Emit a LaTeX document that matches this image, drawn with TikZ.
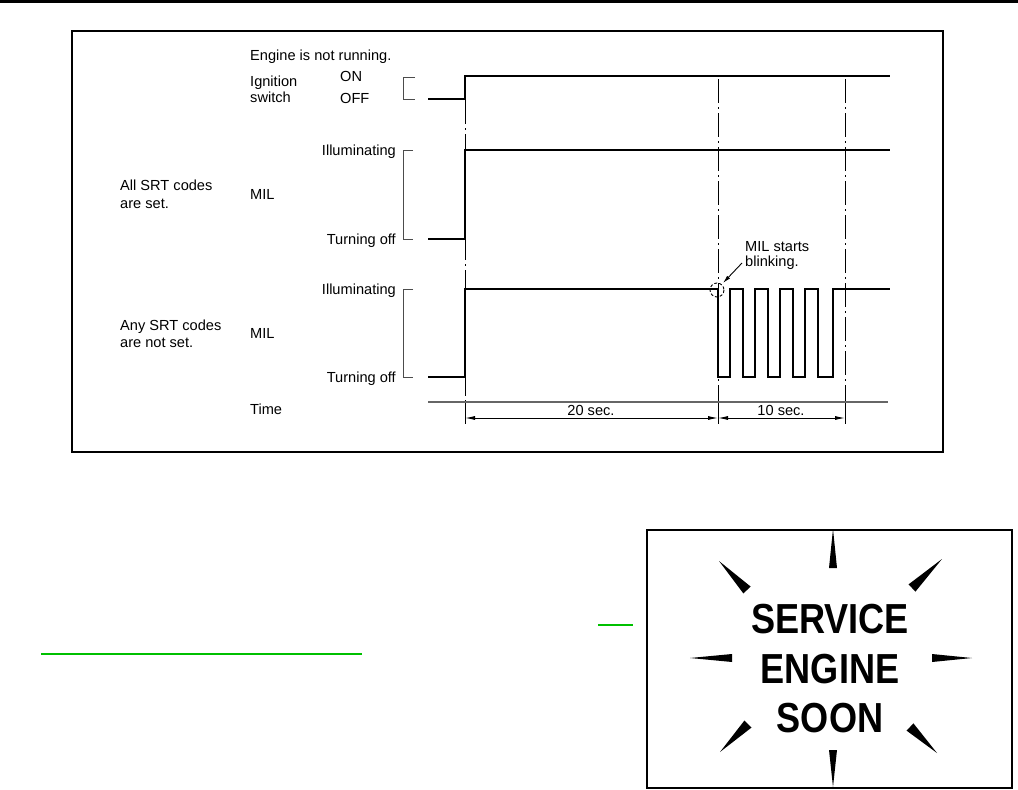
\documentclass[tikz,border=0pt]{standalone}
\usepackage{fontspec}
\setmainfont{Liberation Sans}
\usetikzlibrary{arrows.meta,calc}
\definecolor{sgreen}{RGB}{0,192,0}
\newcommand\spikeshape[3]{\fill ($(#1)!#3!90:(#2)$) -- (#2) -- ($(#1)!#3!-90:(#2)$) -- cycle;}
\begin{document}
\begin{tikzpicture}[x=1pt,y=-1pt,
  lbl/.style={font=\fontsize{14.6}{16}\selectfont, inner sep=0pt},
  sig/.style={line width=2.8pt, line join=miter},
  brk/.style={line width=0.9pt, black!70},
  dd/.style={line width=0.9pt, dash pattern=on 24pt off 4pt on 2pt off 4pt},
  dimline/.style={line width=0.9pt, {Latex[length=10pt,width=4pt]}-{Latex[length=10pt,width=4pt]}},
  frame/.style={line width=2pt},
  grn/.style={line width=2.5pt, color=sgreen}
]
\useasboundingbox (0,0) rectangle (1018,790);
\fill[white] (0,0) rectangle (1018,790);
% top rule
\draw[line width=3pt] (0,1.5) -- (1018,1.5);
% frame
\draw[frame] (71.5,31) rectangle (943,452);

% labels
\node[lbl,anchor=base west] (eng) at (250,60) {Engine is not running.};
\node[lbl,anchor=base west] (ign1) at (250,86) {Ignition};
\node[lbl,anchor=base west] (ign2) at (250,102) {switch};
\node[lbl,anchor=base west] (on) at (340,81) {ON};
\node[lbl,anchor=base west] (off) at (340,103) {OFF};
\draw[brk] (415,77) -- (403,77) -- (403,99) -- (415,99);
\draw[sig] (428,99) -- (465,99) -- (465,76) -- (890,76);

\node[lbl,anchor=base west] (all1) at (120,190) {All SRT codes};
\node[lbl,anchor=base west] (all2) at (120,208) {are set.};
\node[lbl,anchor=base west] (mil1) at (250,199) {MIL};
\node[lbl,anchor=base east] (il1) at (396,155) {Illuminating};
\node[lbl,anchor=base east] (to1) at (396,244) {Turning off};
\draw[brk] (413,150) -- (403,150) -- (403,239) -- (413,239);
\draw[sig] (428,239) -- (465,239) -- (465,150) -- (890,150);

\node[lbl,anchor=base west] (any1) at (120,330) {Any SRT codes};
\node[lbl,anchor=base west] (any2) at (120,347) {are not set.};
\node[lbl,anchor=base west] (mil2) at (250,338) {MIL};
\node[lbl,anchor=base east] (il2) at (396,294) {Illuminating};
\node[lbl,anchor=base east] (to2) at (396,382) {Turning off};
\draw[brk] (413,289) -- (403,289) -- (403,377) -- (413,377);
\draw[sig] (428,377) -- (465,377) -- (465,289) -- (718,289) -- (718,377)
  -- (730,377) -- (730,289) -- (743,289) -- (743,377)
  -- (755,377) -- (755,289) -- (768,289) -- (768,377)
  -- (780,377) -- (780,289) -- (793,289) -- (793,377)
  -- (805,377) -- (805,289) -- (818,289) -- (818,377)
  -- (833,377) -- (833,289) -- (890,289);

% dash-dot lines
\draw[dd] (465,100) -- (465,402);
\draw[dd] (718,79) -- (718,402);
\draw[dd] (845,79) -- (845,402);
\draw[line width=0.9pt] (465,402) -- (465,424) (718,402) -- (718,424) (845,402) -- (845,424);

% time axis
\node[lbl,anchor=base west] (time) at (250,414) {Time};
\draw[line width=1.3pt, black!60] (428,402) -- (888,402);
\coordinate (d1) at (465,418);
\coordinate (d2) at (718,418);
\coordinate (d3) at (845,418);
\draw[dimline] (d1) -- (d2);
\draw[dimline] (d2) -- (d3);
\node[lbl,anchor=base] (t20) at (591,415) {20 sec.};
\node[lbl,anchor=base] (t10) at (781,415) {10 sec.};

% MIL starts blinking
\node[lbl,anchor=base west] (ms1) at (745,251) {MIL starts};
\node[lbl,anchor=base west] (ms2) at (745,266) {blinking.};
\coordinate (atail) at (742,263);
\coordinate (ahead) at (723,283);
\draw[line width=0.9pt, -{Latex[length=8pt,width=4pt]}] (atail) -- (ahead);
\draw[line width=0.9pt, dash pattern=on 3pt off 2pt] (717,290) circle (7);

% green links
\draw[grn] (41,654) -- (362,654);
\draw[grn] (598,625) -- (633,625);

% service engine soon box
\draw[frame] (647,530) rectangle (1012,788);
\node[font=\fontsize{42}{50}\selectfont\bfseries, xscale=0.86, inner sep=0pt, anchor=base] (svc) at (830,633) {SERVICE};
\node[font=\fontsize{42}{50}\selectfont\bfseries, xscale=0.86, inner sep=0pt, anchor=base] (eng2) at (830,683) {ENGINE};
\node[font=\fontsize{42}{50}\selectfont\bfseries, xscale=0.86, inner sep=0pt, anchor=base] (soon) at (830,732) {SOON};
\spikeshape{833,568}{833,529}{4pt}
\spikeshape{833,750}{833,787}{4pt}
\spikeshape{732,658}{690,658}{4pt}
\spikeshape{932,658}{972,658}{4pt}
\spikeshape{747,590}{719,561}{5pt}
\spikeshape{912,588}{942,559}{5pt}
\spikeshape{748,724}{720,752}{5pt}
\spikeshape{910,727}{937,753}{5pt}
\end{tikzpicture}
\end{document}
